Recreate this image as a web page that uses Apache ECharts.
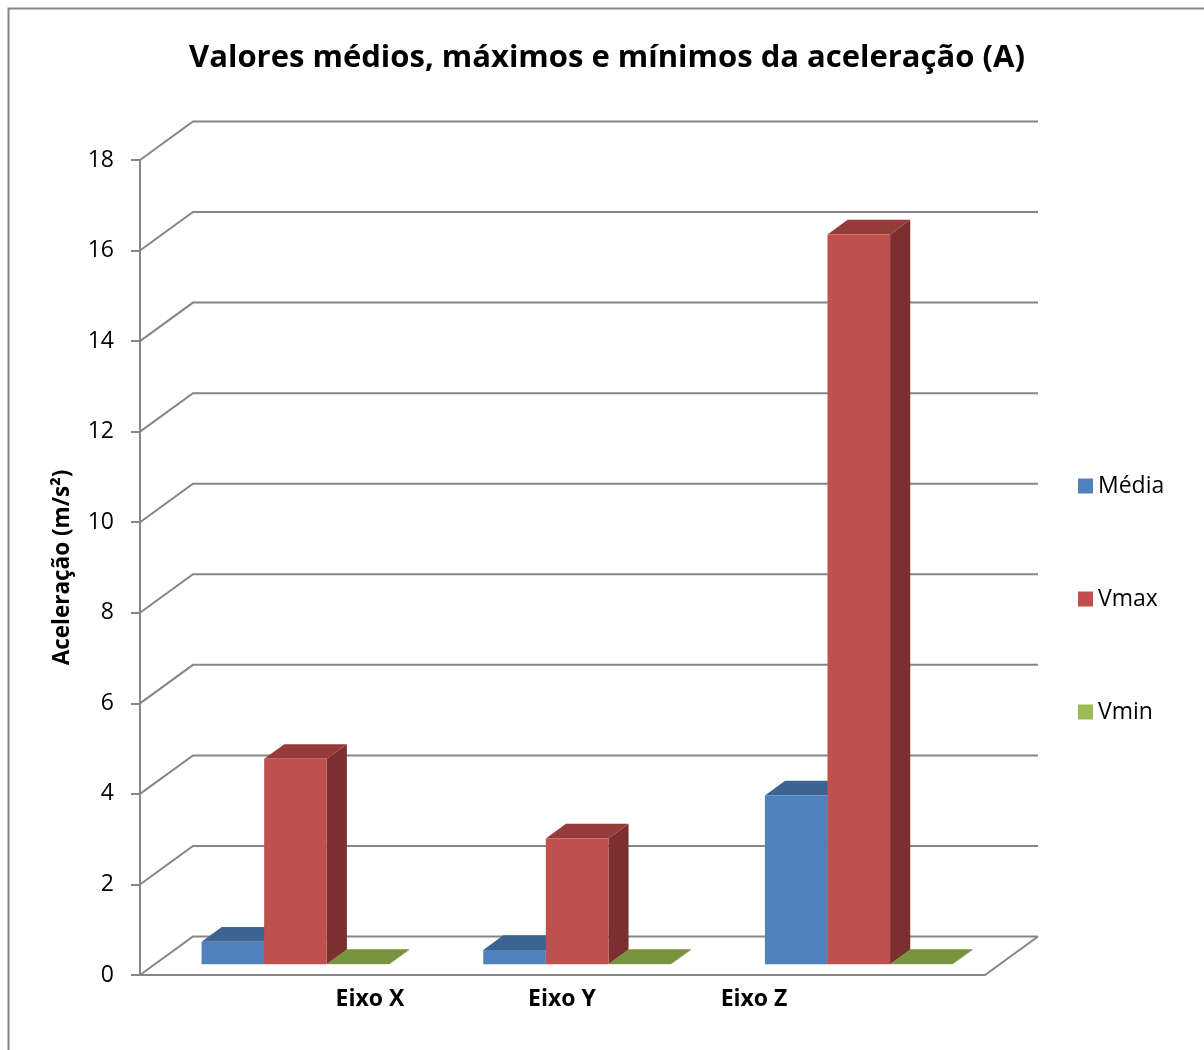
<!DOCTYPE html>
<html>
<head>
<meta charset="utf-8">
<title>Valores médios, máximos e mínimos da aceleração (A)</title>
<script src="https://cdn.jsdelivr.net/npm/echarts@6/dist/echarts.min.js"></script>
<style>
  html, body { margin: 0; padding: 0; background: #ffffff; }
  #chart { width: 1204px; height: 1050px; }
</style>
</head>
<body>
<div id="chart"></div>
<script>
// Categories, series and axis ticks
var categories = ['Eixo X', 'Eixo Y', 'Eixo Z'];
var seriesNames = ['Média', 'Vmax', 'Vmin'];
var mediaValues = [0.50, 0.32, 3.73];
var vmaxValues = [4.54, 2.78, 16.12];
var vminValues = [0.01, 0.01, 0.01];
var yTicks = [0, 2, 4, 6, 8, 10, 12, 14, 16, 18];

// Face colours per series: front, top, side
var palette = [
  { front: '#4F81BD', top: '#3B6491', side: '#2F5078', legend: '#4F81BD' },
  { front: '#C0504D', top: '#953B39', side: '#7B2F2E', legend: '#C0504D' },
  { front: '#9BBB59', top: '#77933C', side: '#5F7630', legend: '#9BBB59' }
];

// Oblique projection of the depth axis
var DEPTH_DX = 53;
var DEPTH_DY = 38.5;
var BAR_D0 = 0.276;    // front of the bar row, as a fraction of the depth
var BAR_DEPTH = 0.38;  // depth of each bar
var GRID_COLOR = '#868686';

// Back wall grid lines, the depth diagonals and the floor outline
function renderWalls(params, api) {
  var cs = params.coordSys;
  var v = api.value(0);
  var y = api.coord([0, v])[1];
  var x0 = cs.x, x1 = cs.x + cs.width;
  var children = [{
    type: 'polyline',
    shape: { points: [[x0, y], [x0 + DEPTH_DX, y - DEPTH_DY], [x1 + DEPTH_DX, y - DEPTH_DY]] },
    style: { stroke: GRID_COLOR, lineWidth: 2, fill: null }
  }];
  if (v === 0) {
    children.push({
      type: 'polyline',
      shape: { points: [[x0, y], [x1, y], [x1 + DEPTH_DX, y - DEPTH_DY]] },
      style: { stroke: GRID_COLOR, lineWidth: 2, fill: null }
    });
  }
  return { type: 'group', children: children };
}

// A 3D bar: front rectangle, top and right side parallelograms
function makeBarRenderer(seriesIndex) {
  return function (params, api) {
    var cat = api.value(0);
    var val = api.value(1);
    var base = api.coord([cat, 0]);
    var topPt = api.coord([cat, val]);
    var band = api.size([1, 0])[0];
    var bw = band * 2 / 9;
    var offX = BAR_D0 * DEPTH_DX, offY = BAR_D0 * DEPTH_DY;
    var bdx = BAR_DEPTH * DEPTH_DX, bdy = BAR_DEPTH * DEPTH_DY;
    var xl = base[0] - band / 3 + seriesIndex * bw + offX;
    var xr = xl + bw;
    var yb = base[1] - offY;
    var yt = topPt[1] - offY;
    var c = palette[seriesIndex];
    return {
      type: 'group',
      children: [
        { type: 'polygon',
          shape: { points: [[xr, yt], [xr + bdx, yt - bdy], [xr + bdx, yb - bdy], [xr, yb]] },
          style: { fill: c.side } },
        { type: 'polygon',
          shape: { points: [[xl, yt], [xl + bdx, yt - bdy], [xr + bdx, yt - bdy], [xr, yt]] },
          style: { fill: c.top } },
        { type: 'rect',
          shape: { x: xl, y: yt, width: bw, height: Math.max(yb - yt, 0) },
          style: { fill: c.front } }
      ]
    };
  };
}

function barData(values) {
  return values.map(function (v, i) { return [i, v]; });
}

var chart = echarts.init(document.getElementById('chart'), null, { renderer: 'canvas' });

var option = {
  backgroundColor: '#ffffff',
  animation: false,
  textStyle: { fontFamily: 'Open Sans' },
  title: {
    text: 'Valores médios, máximos e mínimos da aceleração (A)',
    left: 602,
    textAlign: 'center',
    top: 38,
    textStyle: { fontFamily: 'Open Sans', fontWeight: 'bold', fontSize: 31, color: '#000' }
  },
  graphic: [{
    type: 'rect',
    shape: { x: 8.5, y: 8.5, width: 1400, height: 1200 },
    style: { fill: null, stroke: '#868686', lineWidth: 2 },
    silent: true
  }],
  legend: {
    orient: 'vertical',
    left: 1073,
    top: 469,
    itemWidth: 15,
    itemHeight: 15,
    itemGap: 89,
    icon: 'rect',
    data: seriesNames,
    textStyle: { fontFamily: 'Open Sans', fontSize: 23, color: '#000', lineHeight: 24 }
  },
  grid: [
    { left: 140, top: 160, width: 845, height: 815 },
    { left: 274, top: 160, width: 576, height: 815 }
  ],
  xAxis: [
    {
      type: 'category', gridIndex: 0, data: categories,
      axisLine: { show: false }, axisTick: { show: false }, axisLabel: { show: false }
    },
    {
      type: 'category', gridIndex: 1, data: categories,
      axisLine: { show: false }, axisTick: { show: false },
      axisLabel: { margin: 13, fontFamily: 'Open Sans', fontWeight: 'bold', fontSize: 23, color: '#000' }
    }
  ],
  yAxis: [
    {
      type: 'value', gridIndex: 0, min: 0, max: 18, interval: 2,
      name: 'Aceleração (m/s²)',
      nameLocation: 'middle',
      nameGap: 66,
      nameRotate: 90,
      nameTextStyle: { fontFamily: 'Open Sans', fontWeight: 'bold', fontSize: 22.5, color: '#000' },
      axisLine: { show: true, lineStyle: { color: GRID_COLOR, width: 2 } },
      axisTick: { show: true, length: 9, lineStyle: { color: GRID_COLOR, width: 2 } },
      axisLabel: { margin: 26, fontFamily: 'Open Sans', fontSize: 23, color: '#000' },
      splitLine: { show: false }
    },
    {
      type: 'value', gridIndex: 1, min: 0, max: 18, show: false
    }
  ],
  series: [
    {
      name: 'walls', type: 'custom', xAxisIndex: 0, yAxisIndex: 0,
      renderItem: renderWalls, silent: true, z: 1,
      data: yTicks.map(function (t) { return [t]; })
    },
    {
      name: seriesNames[0], type: 'custom', xAxisIndex: 0, yAxisIndex: 0,
      renderItem: makeBarRenderer(0), z: 2,
      itemStyle: { color: palette[0].legend },
      data: barData(mediaValues)
    },
    {
      name: seriesNames[1], type: 'custom', xAxisIndex: 0, yAxisIndex: 0,
      renderItem: makeBarRenderer(1), z: 3,
      itemStyle: { color: palette[1].legend },
      data: barData(vmaxValues)
    },
    {
      name: seriesNames[2], type: 'custom', xAxisIndex: 0, yAxisIndex: 0,
      renderItem: makeBarRenderer(2), z: 4,
      itemStyle: { color: palette[2].legend },
      data: barData(vminValues)
    }
  ]
};

chart.setOption(option);
</script>
</body>
</html>
